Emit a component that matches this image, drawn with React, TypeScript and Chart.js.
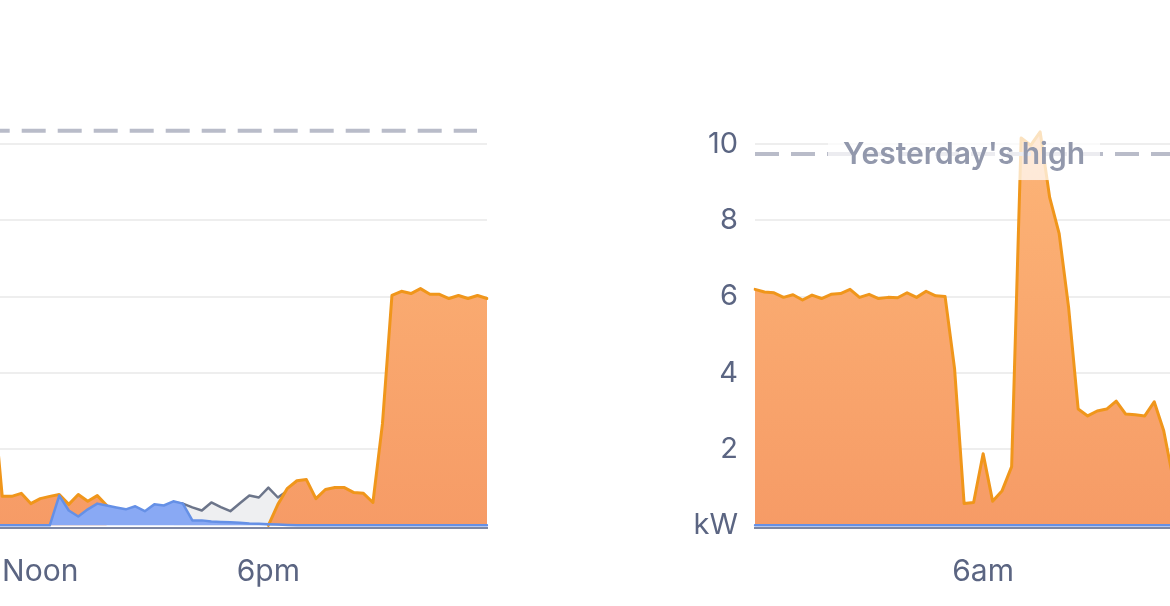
import React, { useEffect, useRef } from 'react';
import { Chart, registerables } from 'chart.js';

Chart.register(...registerables);

// 15-minute time slots for one day (96 categories)
const timeCategories: string[] = [];
for (let h = 0; h < 24; h++) {
  for (let m = 0; m < 60; m += 15) {
    timeCategories.push(`${String(h).padStart(2, '0')}:${String(m).padStart(2, '0')}`);
  }
}

// x tick labels (category index -> text)
const xTickIndexes = [24, 48, 72];
const xTickTexts = ['6am', 'Noon', '6pm'];

// y tick labels
const yTickValues = [0, 2, 4, 6, 8, 10];
const yTickTexts = ['kW', '2', '4', '6', '8', '10'];

// ----- Previous day (left chart), values start at slot 43 (10:45) -----
const prevDayStart = 43;
const prevDayGrid: (number | null)[] = [
  3.5, 0.76, 0.76, 0.84, 0.57, 0.7, 0.76, 0.81, 0.55, 0.81, 0.63, 0.78, 0.52,
  null, null, null, null, null, null, null, null, null, null, null, null, null, null, null, null,
  0.0, 0.55, 0.97, 1.17, 1.2, 0.7, 0.94, 0.99, 0.99, 0.86, 0.84, 0.6, 2.66,
  6.03, 6.14, 6.08, 6.21, 6.06, 6.06, 5.95, 6.03, 5.95, 6.03, 5.95,
];
const prevDaySolar: (number | null)[] = [
  0, 0, 0, 0, 0, 0, 0, 0.78, 0.39, 0.23, 0.42, 0.57, 0.52, 0.47, 0.42, 0.5, 0.37, 0.55,
  0.52, 0.63, 0.57, 0.13, 0.13, 0.1, 0.09, 0.08, 0.07, 0.05, 0.04, 0.03, 0.02, 0.01,
  0, 0, 0, 0, 0, 0, 0, 0, 0, 0, 0, 0, 0, 0, 0, 0, 0, 0, 0, 0, 0,
];
const prevDayHome: (number | null)[] = [
  null, null, null, null, null, null, null, null, null, null, null, null, null, null,
  null, null, null, null, null,
  0.6, 0.57, 0.47, 0.39, 0.6, 0.48, 0.37, 0.58, 0.78, 0.73, 0.99, 0.73, 0.91,
];
const prevDayYesterdayHigh = 10.35;

// ----- Current day (right chart), values start at slot 0 (midnight) -----
const todayStart = 0;
const todayGrid: (number | null)[] = [
  6.19, 6.12, 6.1, 5.98, 6.05, 5.91, 6.04, 5.95, 6.06, 6.08, 6.19, 5.98, 6.06, 5.95,
  5.98, 5.97, 6.1, 5.98, 6.14, 6.02, 6.0, 4.1, 0.57, 0.6, 1.88, 0.63, 0.91, 1.54,
  10.16, 9.97, 10.32, 8.6, 7.65, 5.7, 3.05, 2.87, 3.0, 3.05, 3.26, 2.92, 2.9, 2.87,
  3.24, 2.48, 1.2,
];
const todaySolar: (number | null)[] = [
  0, 0, 0, 0, 0, 0, 0, 0, 0, 0, 0, 0, 0, 0, 0, 0, 0, 0, 0, 0, 0, 0, 0,
  0, 0, 0, 0, 0, 0, 0, 0, 0, 0, 0, 0, 0, 0, 0, 0, 0, 0, 0, 0, 0, 0,
];
const todayYesterdayHigh = 9.74;

const FONT = 'Inter, "Noto Sans", sans-serif';
const TEXT_COLOR = '#5b6582';

function placeSeries(start: number, values: (number | null)[]): (number | null)[] {
  const out: (number | null)[] = timeCategories.map(() => null);
  values.forEach((v, i) => {
    if (start + i < out.length) out[start + i] = v;
  });
  return out;
}

const yesterdayHighPlugin = {
  id: 'yesterdayHigh',
  afterDatasetsDraw(chart: any, _args: any, opts: any) {
    const { ctx, chartArea, scales } = chart;
    const y = scales.y.getPixelForValue(opts.value);
    ctx.save();
    ctx.beginPath();
    ctx.rect(chartArea.left, chartArea.top - 40, chartArea.right - chartArea.left, chartArea.bottom - chartArea.top + 40);
    ctx.clip();
    ctx.beginPath();
    ctx.setLineDash([24, 12]);
    ctx.lineDashOffset = opts.dashOffset || 0;
    ctx.lineWidth = 4;
    ctx.strokeStyle = '#b9bcc9';
    ctx.moveTo(chartArea.left, y);
    ctx.lineTo(chartArea.right - 10, y);
    ctx.stroke();
    ctx.setLineDash([]);
    const bx = chartArea.left + 73;
    const bw = 272;
    ctx.fillStyle = 'rgba(255,255,255,0.72)';
    ctx.fillRect(bx, y - 26, bw, 52);
    ctx.font = `600 30px ${FONT}`;
    ctx.fillStyle = '#9298ac';
    ctx.textAlign = 'center';
    ctx.textBaseline = 'alphabetic';
    ctx.fillText(opts.label, bx + bw / 2, y + 10);
    ctx.restore();
  },
};

function orangeGradient(ctx: any) {
  const chart = ctx.chart;
  const area = chart.chartArea;
  if (!area) return '#fba86d';
  const g = chart.ctx.createLinearGradient(0, area.top, 0, area.bottom);
  g.addColorStop(0, '#fdb678');
  g.addColorStop(1, '#f69b66');
  return g;
}

function buildConfig(
  grid: (number | null)[],
  solar: (number | null)[],
  home: (number | null)[] | null,
  high: number,
  dashOffset: number,
): any {
  const datasets: any[] = [
    {
      label: 'Solar',
      data: solar,
      borderColor: '#6590e6',
      backgroundColor: '#89a9f4',
      borderWidth: 2.5,
      fill: 'origin',
    },
    {
      label: 'Grid',
      data: grid,
      borderColor: '#f0961b',
      backgroundColor: orangeGradient,
      borderWidth: 3,
      fill: 'origin',
    },
  ];
  if (home) {
    datasets.push({
      label: 'Home',
      data: home,
      borderColor: '#6c758a',
      backgroundColor: '#eeeff1',
      borderWidth: 2.5,
      fill: 'origin',
    });
  }
  return {
    type: 'line',
    data: { labels: timeCategories, datasets },
    options: {
      animation: false,
      responsive: true,
      maintainAspectRatio: false,
      layout: { padding: { top: 106, left: 0, right: 0, bottom: 0 } },
      elements: {
        point: { radius: 0, hoverRadius: 0 },
        line: { tension: 0, borderJoinStyle: 'round', borderCapStyle: 'round' },
      },
      plugins: {
        legend: { display: false },
        tooltip: { enabled: false },
        yesterdayHigh: { value: high, label: "Yesterday's high", dashOffset },
      },
      scales: {
        x: {
          type: 'category',
          offset: false,
          grid: { display: false, drawTicks: false },
          border: { display: true, color: '#7e87a3', width: 2 },
          ticks: {
            autoSkip: false,
            maxRotation: 0,
            minRotation: 0,
            padding: 26,
            color: TEXT_COLOR,
            font: { family: FONT, size: 30 },
            callback: (_v: any, i: number) => {
              const k = xTickIndexes.indexOf(i);
              return k >= 0 ? xTickTexts[k] : '';
            },
          },
          afterFit: (s: any) => {
            s.height = 78;
          },
        },
        y: {
          type: 'linear',
          min: -0.07,
          max: 11,
          afterBuildTicks: (s: any) => {
            s.ticks = yTickValues.map((v) => ({ value: v }));
          },
          grid: {
            drawTicks: false,
            lineWidth: 2,
            color: (c: any) => (c.tick && c.tick.value === 0 ? 'rgba(0,0,0,0)' : '#eeeeee'),
          },
          border: { display: false },
          ticks: {
            padding: 17,
            color: TEXT_COLOR,
            font: { family: FONT, size: 29 },
            callback: (v: any) => {
              const k = yTickValues.indexOf(Number(v));
              return k >= 0 ? yTickTexts[k] : '';
            },
          },
          afterFit: (s: any) => {
            s.width = 80;
          },
        },
      },
    },
    plugins: [yesterdayHighPlugin],
  };
}

function DayChart(props: { left: number; config: () => any }) {
  const ref = useRef<HTMLCanvasElement>(null);
  useEffect(() => {
    if (!ref.current) return;
    const chart = new Chart(ref.current, props.config());
    return () => chart.destroy();
  }, []);
  return (
    <div style={{ position: 'absolute', left: props.left, top: 0, width: 1009, height: 606 }}>
      <canvas ref={ref} />
    </div>
  );
}

export default function App() {
  return (
    <div
      style={{
        position: 'fixed',
        left: 0,
        top: 0,
        width: 1170,
        height: 606,
        overflow: 'hidden',
        background: '#ffffff',
      }}
    >
      <DayChart
        left={-496}
        config={() =>
          buildConfig(
            placeSeries(prevDayStart, prevDayGrid),
            placeSeries(prevDayStart, prevDaySolar),
            placeSeries(prevDayStart, prevDayHome),
            prevDayYesterdayHigh,
            30.3,
          )
        }
      />
      <DayChart
        left={675}
        config={() =>
          buildConfig(
            placeSeries(todayStart, todayGrid),
            placeSeries(todayStart, todaySolar),
            null,
            todayYesterdayHigh,
            0,
          )
        }
      />
    </div>
  );
}
